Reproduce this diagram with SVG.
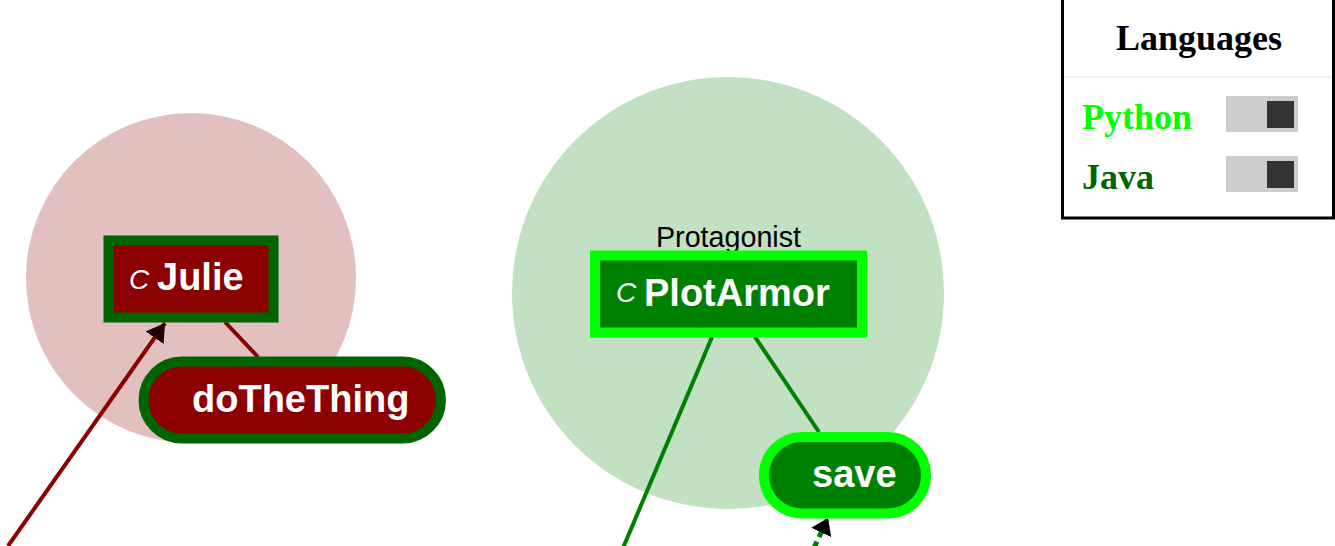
<svg xmlns="http://www.w3.org/2000/svg" width="1335" height="546" viewBox="0 0 1335 546">
<style>
.lbl{font-family:"Liberation Sans",Arial,sans-serif;font-weight:bold;font-size:38px;fill:#fff}
.ic{font-family:"Liberation Sans",Arial,sans-serif;font-style:italic;font-size:28px;fill:#fff}
.leg{font-family:"Liberation Serif","Times New Roman",serif;font-weight:bold;font-size:36px}
.edge{fill:none;stroke-width:4}
</style>
<defs>
<marker id="ahRed" viewBox="0 0 18 22" refX="18" refY="11" markerWidth="18" markerHeight="22" markerUnits="userSpaceOnUse" orient="auto">
<path d="M0,0 L18,11 L0,22 z" fill="#1e0000"/>
</marker>
<marker id="ahBlk" viewBox="0 0 16 22" refX="16" refY="11" markerWidth="16" markerHeight="22" markerUnits="userSpaceOnUse" orient="auto">
<path d="M0,0 L16,11 L0,22 z" fill="#000"/>
</marker>
</defs>
<rect width="1335" height="546" fill="#fff"/>
<g id="groups">
<circle cx="191" cy="278" r="165" fill="#e2c0c0"/>
<circle cx="728" cy="293" r="216" fill="#c2e0c2"/>
<text x="728.5" y="247" text-anchor="middle" font-family="'Liberation Sans',Arial,sans-serif" font-size="28.7" fill="#000">Protagonist</text>
</g>
<g id="connectors">
<line class="edge" x1="8" y1="546" x2="165" y2="323" stroke="#8b0000" marker-end="url(#ahRed)"/>
<line class="edge" x1="225" y1="322" x2="258" y2="357" stroke="#8b0000"/>
<line class="edge" x1="712" y1="337" x2="623" y2="548" stroke="#008000"/>
<line class="edge" x1="755" y1="337" x2="819" y2="432" stroke="#008000"/>
<line x1="814" y1="548" x2="828" y2="518" stroke="#008000" stroke-width="5" stroke-dasharray="7,5" fill="none" marker-end="url(#ahBlk)"/>
</g>
<g id="node-julie">
<rect x="108.5" y="240.5" width="165" height="77" fill="#8b0000" stroke="#006400" stroke-width="10"/>
<text class="ic" x="129" y="289">C</text>
<text class="lbl" x="157" y="290">Julie</text>
</g>
<g id="node-dothething">
<rect x="143.5" y="361.5" width="297.5" height="77" rx="38.5" fill="#8b0000" stroke="#006400" stroke-width="10"/>
<text class="lbl" x="192" y="412">doTheThing</text>
</g>
<g id="node-plotarmor">
<rect x="595" y="255.5" width="267" height="77" fill="#008000" stroke="#00ff00" stroke-width="10"/>
<text class="ic" x="616" y="302">C</text>
<text class="lbl" x="644" y="306">PlotArmor</text>
</g>
<g id="node-save">
<rect x="764" y="437" width="162" height="76.5" rx="38" fill="#008000" stroke="#00ff00" stroke-width="10"/>
<text class="lbl" x="812" y="487">save</text>
</g>
<g id="legend">
<rect x="1062.5" y="-10" width="271" height="228" fill="#fff" stroke="#000" stroke-width="3"/>
<line x1="1064" y1="77" x2="1332" y2="77" stroke="#eee" stroke-width="2"/>
<text class="leg" x="1199" y="50" text-anchor="middle" fill="#000">Languages</text>
<text class="leg" x="1082" y="129" fill="#00ff00">Python</text>
<text class="leg" x="1082" y="189" fill="#006400">Java</text>
<rect x="1226" y="96" width="72" height="36" fill="#ccc"/>
<rect x="1267" y="101" width="27" height="27" fill="#333"/>
<rect x="1226" y="156" width="72" height="36" fill="#ccc"/>
<rect x="1267" y="161" width="27" height="27" fill="#333"/>
</g>
</svg>
